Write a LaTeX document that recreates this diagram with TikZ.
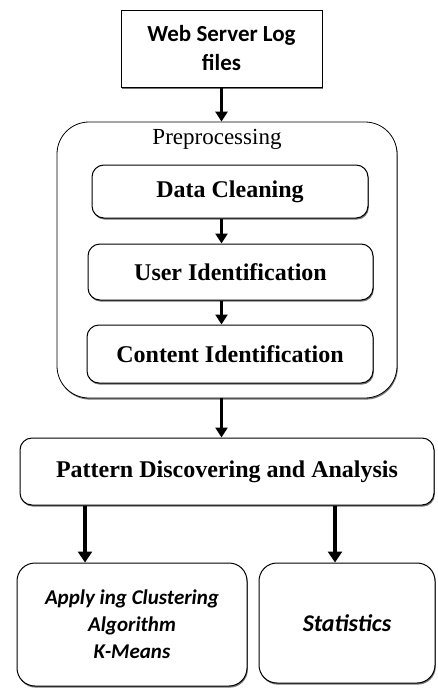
\documentclass[tikz,border=0pt]{standalone}
\usepackage{fontspec}
\setmainfont{Liberation Serif}
\newfontfamily\carlito{Carlito}
\usetikzlibrary{arrows.meta,shadows}
\tikzset{
    plain-box/.style = {draw=black, fill=white, line width=1pt, rectangle, align=center, inner sep=0pt, drop shadow={shadow xshift=0.8pt, shadow yshift=-1.6pt, fill=black!55, opacity=1}},
    round-box/.style = {plain-box, rounded corners=12pt},
    step-box/.style = {round-box, font=\fontsize{24}{28}\selectfont\bfseries},
    result-box/.style = {round-box, rounded corners=18pt, font=\carlito\fontsize{21}{27}\selectfont\bfseries\itshape},
    flow-arrow/.style = {line width=3pt, -{Triangle[width=12pt,length=10pt]}},
}

\begin{document}
\begin{tikzpicture}[x=1pt,y=-1pt]
\useasboundingbox (0,0) rectangle (437,688);

\node [plain-box, minimum width=201pt, minimum height=77pt, font=\carlito\fontsize{23}{29}\selectfont\bfseries] (web) at (221.5,48.5) {Web Server Log\\files};

% preprocessing stage
\node [plain-box, line width=0.8pt, rounded corners=32pt, minimum width=340pt, minimum height=276pt] (pre) at (227,260) {};
\node [font=\fontsize{23}{27}\selectfont] (pre-title) at (217,139) {Preprocessing};
\node [step-box, minimum width=276pt, minimum height=53pt] (clean) at (230,191.5) {Data Cleaning};
\node [step-box, minimum width=285pt, minimum height=56pt] (user) at (230.5,272) {User Identification};
\node [step-box, minimum width=286pt, minimum height=58pt] (content) at (230,354) {Content Identification};

\node [step-box, minimum width=414pt, minimum height=67pt] (pattern) at (227,471.5) {Pattern Discovering and Analysis};

\node [result-box, minimum width=230pt, minimum height=123pt] (cluster) at (132,624.5) {Apply ing Clustering\\Algorithm\\K-Means};
\node [result-box, minimum width=176pt, minimum height=120pt, font=\carlito\fontsize{24}{28}\selectfont\bfseries\itshape] (stats) at (347,623) {Statistics};

\coordinate (left-tip) at ([xshift=-47pt]cluster.north);
\coordinate (right-tip) at ([xshift=-12pt]stats.north);

\draw [flow-arrow] (web.south) -- (web.south |- pre.north);
\draw [flow-arrow] (clean.south -| web.south) -- (user.north -| web.south);
\draw [flow-arrow] (user.south -| web.south) -- (content.north -| web.south);
\draw [flow-arrow] (pre.south -| web.south) -- (pattern.north -| web.south);
\draw [flow-arrow, line width=4pt, -{Triangle[width=14pt,length=11pt]}] (left-tip |- pattern.south) -- (left-tip);
\draw [flow-arrow, line width=4pt, -{Triangle[width=14pt,length=11pt]}] (right-tip |- pattern.south) -- (right-tip);
\end{tikzpicture}
\end{document}
